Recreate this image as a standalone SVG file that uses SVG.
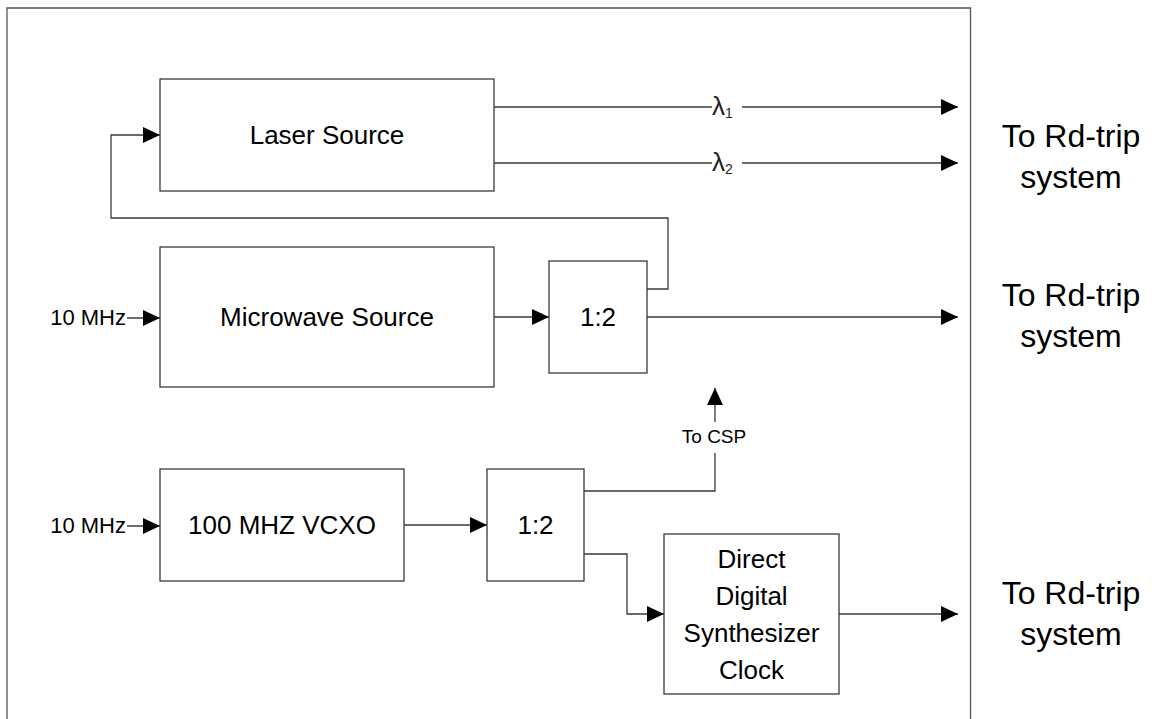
<svg xmlns="http://www.w3.org/2000/svg" width="1152" height="719" viewBox="0 0 1152 719">
<style>
.box{fill:#fff;stroke:#3a3a3a;stroke-width:1.3}
.frame{fill:none;stroke:#555;stroke-width:1.3}
.wire{fill:none;stroke:#3a3a3a;stroke-width:1.3}
.lbl{font-family:"Liberation Sans",Arial,sans-serif;fill:#000;text-anchor:middle}
.big{font-size:26px}
.out{font-size:32px}
.small{font-size:22px;text-anchor:end}
.csp{font-size:19px}
.lam{font-family:"Liberation Sans",Arial,sans-serif;font-size:26px;fill:#222}
.sub{font-size:14px}
</style>
<defs>
<marker id="arr" markerUnits="userSpaceOnUse" markerWidth="17" markerHeight="16" refX="17" refY="8" orient="auto">
<path d="M0,0 L17,8 L0,16 Z" fill="#000"/>
</marker>
</defs>
<rect width="1152" height="719" fill="#fff"/>
<path class="frame" d="M7,725 V8 H970.5 V725"/>

<g id="connectors">
<path class="wire" d="M647,289 H668 V218 H111 V135 H160" marker-end="url(#arr)"/>
<path class="wire" d="M494,107 H958" marker-end="url(#arr)"/>
<path class="wire" d="M494,163 H958" marker-end="url(#arr)"/>
<path class="wire" d="M127,318 H160" marker-end="url(#arr)"/>
<path class="wire" d="M494,317 H549" marker-end="url(#arr)"/>
<path class="wire" d="M647,317 H958" marker-end="url(#arr)"/>
<path class="wire" d="M127,526 H160" marker-end="url(#arr)"/>
<path class="wire" d="M404,525 H487" marker-end="url(#arr)"/>
<path class="wire" d="M584,491 H715 V388" marker-end="url(#arr)"/>
<path class="wire" d="M584,554 H627 V614 H664" marker-end="url(#arr)"/>
<path class="wire" d="M839,614 H958" marker-end="url(#arr)"/>
<rect x="712" y="94" width="30" height="26" fill="#fff"/>
<text class="lam" x="712" y="115">λ<tspan class="sub" dy="3">1</tspan></text>
<rect x="712" y="150" width="30" height="26" fill="#fff"/>
<text class="lam" x="712" y="171">λ<tspan class="sub" dy="3">2</tspan></text>
<rect x="678" y="422" width="72" height="31" fill="#fff"/>
<text class="lbl csp" x="714" y="443">To CSP</text>
<text class="lbl small" x="126" y="325">10 MHz</text>
<text class="lbl small" x="126" y="533">10 MHz</text>
</g>

<g id="laser">
<rect class="box" x="160" y="79" width="334" height="112"/>
<text class="lbl big" x="327" y="144">Laser Source</text>
</g>
<g id="microwave">
<rect class="box" x="160" y="247" width="334" height="140"/>
<text class="lbl big" x="327" y="326">Microwave Source</text>
</g>
<g id="split1">
<rect class="box" x="549" y="261" width="98" height="112"/>
<text class="lbl big" x="598" y="326">1:2</text>
</g>
<g id="vcxo">
<rect class="box" x="160" y="469" width="244" height="112"/>
<text class="lbl big" x="282" y="534">100 MHZ VCXO</text>
</g>
<g id="split2">
<rect class="box" x="487" y="469" width="97" height="112"/>
<text class="lbl big" x="535.5" y="534">1:2</text>
</g>
<g id="dds">
<rect class="box" x="664" y="534" width="175" height="160"/>
<text class="lbl big" x="751.5" y="568">Direct</text>
<text class="lbl big" x="751.5" y="605">Digital</text>
<text class="lbl big" x="751.5" y="642">Synthesizer</text>
<text class="lbl big" x="751.5" y="679">Clock</text>
</g>
<g id="out1">
<text class="lbl out" x="1071" y="147">To Rd-trip</text>
<text class="lbl out" x="1071" y="188">system</text>
</g>
<g id="out2">
<text class="lbl out" x="1071" y="306">To Rd-trip</text>
<text class="lbl out" x="1071" y="347">system</text>
</g>
<g id="out3">
<text class="lbl out" x="1071" y="604">To Rd-trip</text>
<text class="lbl out" x="1071" y="645">system</text>
</g>
</svg>
